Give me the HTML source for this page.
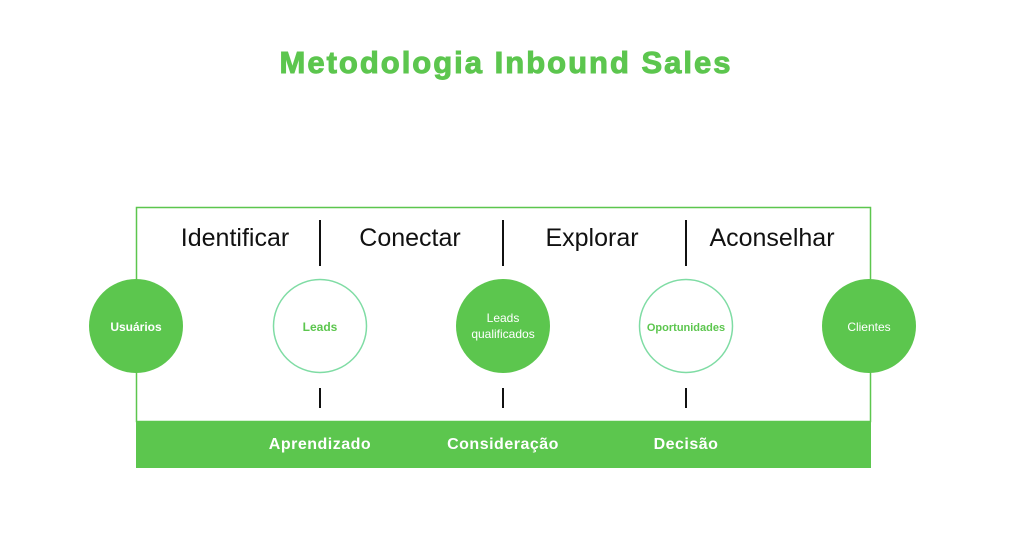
<!DOCTYPE html>
<html><head><style>
body{margin:0;width:1022px;height:537px;background:#fff;overflow:hidden}
</style></head><body>
<svg width="1022" height="537" xmlns="http://www.w3.org/2000/svg" font-family="Liberation Sans, sans-serif">
<text x="506" y="73" text-anchor="middle" font-size="31" font-weight="bold" fill="#5cc64e" letter-spacing="2" stroke="#5cc64e" stroke-width="1">Metodologia Inbound Sales</text>
<rect x="136.5" y="207.5" width="734" height="214" fill="none" stroke="#5cc64e" stroke-width="1.5"/>
<rect x="136" y="421" width="735" height="47" fill="#5cc64e"/>
<g fill="#111" font-size="25" text-anchor="middle">
<text x="235" y="246">Identificar</text>
<text x="410" y="246">Conectar</text>
<text x="592" y="246">Explorar</text>
<text x="772" y="246">Aconselhar</text>
</g>
<g stroke="#111" stroke-width="2">
<line x1="320" y1="220" x2="320" y2="266"/><line x1="503" y1="220" x2="503" y2="266"/><line x1="686" y1="220" x2="686" y2="266"/>
<line x1="320" y1="388" x2="320" y2="408"/><line x1="503" y1="388" x2="503" y2="408"/><line x1="686" y1="388" x2="686" y2="408"/>
</g>
<circle cx="136" cy="326" r="47" fill="#5cc64e"/>
<circle cx="320" cy="326" r="46.5" fill="#fff" stroke="#7fdca4" stroke-width="1.5"/>
<circle cx="503" cy="326" r="47" fill="#5cc64e"/>
<circle cx="686" cy="326" r="46.5" fill="#fff" stroke="#7fdca4" stroke-width="1.5"/>
<circle cx="869" cy="326" r="47" fill="#5cc64e"/>
<g font-size="12" font-weight="bold" text-anchor="middle">
<text x="136" y="331" fill="#fff">Usuários</text>
<text x="320" y="331" fill="#5cc64e">Leads</text>
<text x="503" y="322" fill="#fff" font-weight="normal">Leads</text>
<text x="503" y="338" fill="#fff" font-weight="normal">qualificados</text>
<text x="686" y="331" fill="#5cc64e" font-size="11">Oportunidades</text>
<text x="869" y="331" fill="#fff" font-weight="normal">Clientes</text>
</g>
<g font-size="16" font-weight="bold" fill="#fff" text-anchor="middle" letter-spacing="0.5">
<text x="320" y="449">Aprendizado</text>
<text x="503" y="449">Consideração</text>
<text x="686" y="449">Decisão</text>
</g>
</svg>
</body></html>
